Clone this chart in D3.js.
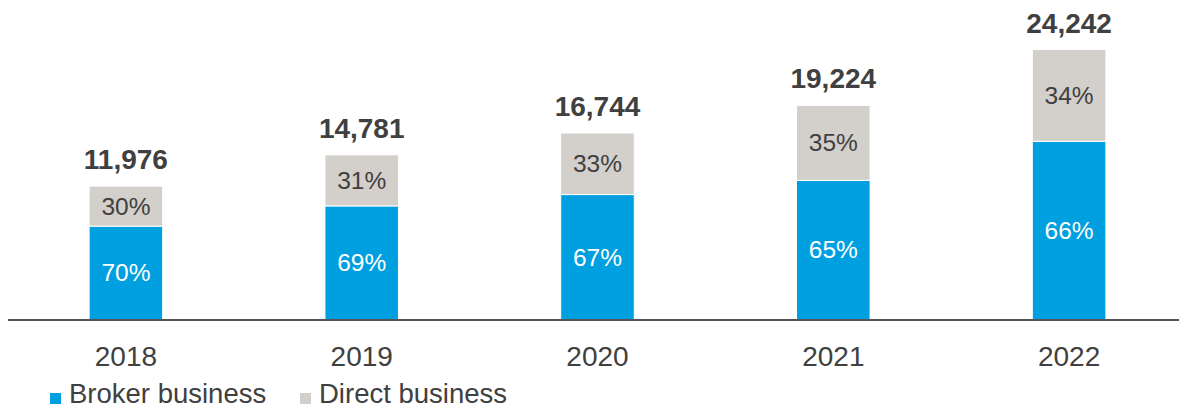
<!DOCTYPE html>
<html>
<head>
<meta charset="utf-8">
<script src="https://cdn.jsdelivr.net/npm/d3@7"></script>
<style>
  html, body { margin: 0; padding: 0; background: #fff; }
  svg { display: block; font-family: "Liberation Sans", Arial, sans-serif; }
</style>
</head>
<body>
<svg id="chart" width="1179" height="409"></svg>
<script>
// Gross written premiums by channel, with broker / direct shares
const years = ["2018", "2019", "2020", "2021", "2022"];
const totals = [11976, 14781, 16744, 19224, 24242];
const brokerShare = [70, 69, 67, 65, 66];
const directShare = [30, 31, 33, 35, 34];
const seriesNames = ["Broker business", "Direct business"];

const colors = { broker: "#009fdf", direct: "#d3cfca", text: "#404040", axis: "#555555" };

const svg = d3.select("#chart");

const x = d3.scaleBand()
  .domain(years)
  .range([8, 1187])
  .paddingInner(0.688)
  .paddingOuter(0.344);

const y = d3.scaleLinear()
  .domain([0, 24242])
  .range([319.5, 49.5]);

const rows = years.map((yr, i) => {
  const brokerVal = totals[i] * brokerShare[i] / 100;
  return {
    year: yr,
    total: totals[i],
    segments: [
      { key: "broker", pct: brokerShare[i], y0: 0, y1: brokerVal },
      { key: "direct", pct: directShare[i], y0: brokerVal, y1: totals[i] }
    ]
  };
});

const groups = svg.append("g").selectAll("g")
  .data(rows)
  .join("g");

// stacked segments, separated by a thin white gap
groups.selectAll("rect")
  .data(d => d.segments.map(s => ({ ...s, year: d.year })))
  .join("rect")
  .attr("x", d => x(d.year))
  .attr("width", x.bandwidth())
  .attr("y", d => y(d.y1))
  .attr("height", d => y(d.y0) - y(d.y1))
  .attr("fill", d => colors[d.key])
  .attr("stroke", "#fff")
  .attr("stroke-width", 1);

// share labels inside each segment
groups.selectAll("text.pct")
  .data(d => d.segments.map(s => ({ ...s, year: d.year })))
  .join("text")
  .attr("class", "pct")
  .attr("x", d => x(d.year) + x.bandwidth() / 2)
  .attr("y", d => (y(d.y0) + y(d.y1)) / 2)
  .attr("dy", "0.35em")
  .attr("text-anchor", "middle")
  .attr("font-size", 24.5)
  .attr("fill", d => d.key === "broker" ? "#ffffff" : colors.text)
  .text(d => d.pct + "%");

// totals above each bar
groups.append("text")
  .attr("x", d => x(d.year) + x.bandwidth() / 2)
  .attr("y", d => y(d.total) - 17)
  .attr("text-anchor", "middle")
  .attr("font-size", 28)
  .attr("font-weight", "bold")
  .attr("fill", colors.text)
  .text(d => d3.format(",")(d.total));

// category axis
const axis = svg.append("g")
  .attr("transform", `translate(0,${y(0) + 0.5})`)
  .call(d3.axisBottom(x).tickSize(0).tickSizeOuter(0));
axis.select(".domain")
  .attr("d", "M8,0H1179")
  .attr("stroke", colors.axis)
  .attr("stroke-width", 2);
axis.selectAll("text")
  .attr("dy", 0)
  .attr("y", 46)
  .attr("font-size", 28)
  .attr("font-family", "Liberation Sans, Arial, sans-serif")
  .attr("fill", colors.text);

// legend
const legendX = [50, 300];
const legend = svg.append("g").selectAll("g")
  .data(seriesNames)
  .join("g")
  .attr("transform", (d, i) => `translate(${legendX[i]},0)`);
legend.append("rect")
  .attr("x", 0)
  .attr("y", 393)
  .attr("width", 11)
  .attr("height", 11)
  .attr("fill", (d, i) => i === 0 ? colors.broker : colors.direct);
legend.append("text")
  .attr("x", 19)
  .attr("y", 403)
  .attr("font-size", 27.5)
  .attr("fill", colors.text)
  .text(d => d);
</script>
</body>
</html>
